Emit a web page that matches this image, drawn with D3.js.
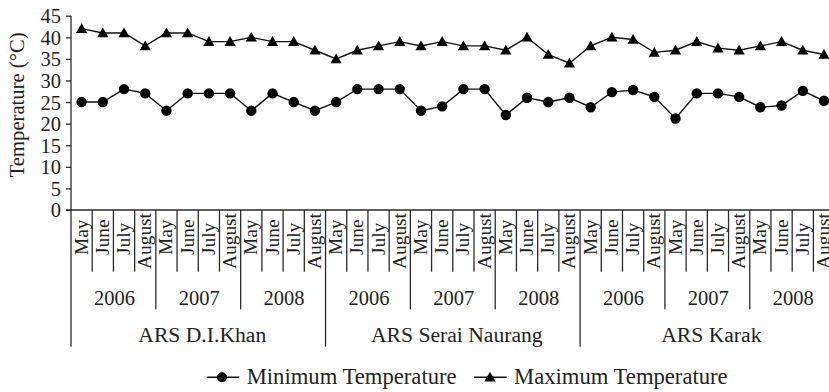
<!DOCTYPE html>
<html><head><meta charset="utf-8">
<script src="https://cdn.jsdelivr.net/npm/d3@7"></script>
<style>
html,body{margin:0;padding:0;background:#fff;overflow:hidden}
svg text{font-family:"Liberation Serif","DejaVu Serif","Tinos","Noto Serif","Nimbus Roman","Nimbus Roman No9 L","FreeSerif","Times New Roman",Times,serif;fill:#222}
</style></head>
<body>
<svg id="c" width="829" height="392"></svg>
<script>
const sites = ["ARS D.I.Khan", "ARS Serai Naurang", "ARS Karak"];
const years = ["2006", "2007", "2008"];
const months = ["May", "June", "July", "August"];
const minTemp = [25, 25, 28, 27, 23, 27, 27, 27, 23, 27, 25, 23,
                 25, 28, 28, 28, 23, 24, 28, 28, 22, 26, 25, 26,
                 23.8, 27.3, 27.8, 26.2, 21.2, 27, 27, 26.2, 23.8, 24.2, 27.6, 25.3];
const maxTemp = [42, 41, 41, 38, 41, 41, 39, 39, 40, 39, 39, 37,
                 35, 37, 38, 39, 38, 39, 38, 38, 37, 40, 36, 34,
                 38, 40, 39.5, 36.5, 37, 39, 37.5, 37, 38, 39, 37, 36];
const yTicks = [0, 5, 10, 15, 20, 25, 30, 35, 40, 45];
const yTitle = "Temperature (°C)";
const seriesNames = ["Minimum Temperature", "Maximum Temperature"];

const cats = [];
sites.forEach(s => years.forEach(yr => months.forEach(m => cats.push({site: s, year: yr, month: m, key: s + "|" + yr + "|" + m}))));
const data = cats.map((c, i) => ({...c, min: minTemp[i], max: maxTemp[i]}));

const svg = d3.select("#c");
const left = 71, right = 834.6, y0 = 210;
const x = d3.scaleBand().domain(cats.map(c => c.key)).range([left, right]);
const y = d3.scaleLinear().domain([0, 45]).range([y0, 15.7]);
const bw = x.bandwidth();
const axisColor = "#2a2a2a";

// font-size fitted so that a sample string reaches the width seen in the reference
function fitSize(sample, target) {
  const t = svg.append("text").style("font-size", "20px").text(sample);
  const w = t.node().getComputedTextLength();
  t.remove();
  return Math.max(10, Math.min(26, 20 * target / w));
}
const fsTick = fitSize("2006", 41);
const fsMonth = fitSize("August", 56);
const fsYear = fsTick;
const fsSite = fitSize("ARS D.I.Khan", 128);
const fsLegend = fitSize(seriesNames[0], 210);
const fsTitle = fitSize(yTitle, 145);

// Y axis
const yAxis = svg.append("g").attr("transform", `translate(${left},0)`)
  .call(d3.axisLeft(y).tickValues(yTicks).tickSize(5).tickPadding(5).tickSizeOuter(0));
yAxis.attr("font-family", null).attr("font-size", null);
yAxis.select(".domain").remove();
yAxis.selectAll(".tick line").attr("stroke", axisColor).attr("stroke-width", 1.3);
yAxis.selectAll(".tick text").style("font-size", fsTick + "px").attr("fill", "#222").attr("dy", "0.34em");

// vertical y-axis line (extends down to site separators)
svg.append("line").attr("x1", left).attr("x2", left).attr("y1", y(45)).attr("y2", 346.7)
  .attr("stroke", axisColor).attr("stroke-width", 1.3);
// horizontal x-axis line
svg.append("line").attr("x1", left - 5).attr("x2", right).attr("y1", y0).attr("y2", y0)
  .attr("stroke", axisColor).attr("stroke-width", 1.3);

// Y title
svg.append("text").attr("transform", `translate(24,${(y(45)+y(0))/2 - 8}) rotate(-90)`)
  .attr("text-anchor", "middle").style("font-size", fsTitle + "px").text(yTitle);

// Category separators
const sepG = svg.append("g");
cats.forEach((c, i) => {
  const xb = x(c.key) + bw;
  let y2 = 271.7;
  if ((i + 1) % 4 === 0) y2 = 309.3;
  if ((i + 1) % 12 === 0) y2 = 346.7;
  sepG.append("line").attr("x1", xb).attr("x2", xb).attr("y1", y0).attr("y2", y2)
    .attr("stroke", axisColor).attr("stroke-width", 1.3);
});
// month labels
cats.forEach(c => {
  const cx = x(c.key) + bw / 2 + 6;
  const t = svg.append("text").style("font-size", fsMonth + "px").text(c.month);
  const len = t.node().getComputedTextLength();
  if (len > 42) t.attr("text-anchor", "end").attr("transform", `translate(${cx},213) rotate(-90)`);
  else t.attr("text-anchor", "start").attr("transform", `translate(${cx},255) rotate(-90)`);
});
// year labels
sites.forEach(s => years.forEach(yr => {
  const ks = cats.filter(c => c.site === s && c.year === yr).map(c => c.key);
  const cx = (x(ks[0]) + x(ks[ks.length - 1]) + bw) / 2 + 1;
  svg.append("text").attr("x", cx).attr("y", 305).attr("text-anchor", "middle").style("font-size", fsYear + "px").text(yr);
}));
// site labels
sites.forEach(s => {
  const ks = cats.filter(c => c.site === s).map(c => c.key);
  const cx = (x(ks[0]) + x(ks[ks.length - 1]) + bw) / 2 + 4;
  svg.append("text").attr("x", cx).attr("y", 342).attr("text-anchor", "middle")
    .style("font-size", fsSite + "px").text(s);
});

// series
const lineGen = key => d3.line().x(d => x(d.key) + bw / 2).y(d => y(d[key]));
svg.append("path").datum(data).attr("d", lineGen("min")).attr("fill", "none").attr("stroke", "#111").attr("stroke-width", 1.4);
svg.append("path").datum(data).attr("d", lineGen("max")).attr("fill", "none").attr("stroke", "#111").attr("stroke-width", 1.4);
svg.append("g").selectAll("circle").data(data).join("circle")
  .attr("cx", d => x(d.key) + bw / 2).attr("cy", d => y(d.min)).attr("r", 5.2).attr("fill", "#000");
const tri = "M0,-5.5L5.6,4.3L-5.6,4.3Z";
svg.append("g").selectAll("path").data(data).join("path")
  .attr("d", tri).attr("transform", d => `translate(${x(d.key) + bw / 2},${y(d.max)})`).attr("fill", "#000");

// legend
const ly = 377.3;
const lg = svg.append("g");
lg.append("line").attr("x1", 206.7).attr("x2", 239.3).attr("y1", ly).attr("y2", ly).attr("stroke", "#111").attr("stroke-width", 1.4);
lg.append("circle").attr("cx", 222).attr("cy", ly).attr("r", 5).attr("fill", "#000");
lg.append("text").attr("x", 246.7).attr("y", 383.5).style("font-size", fsLegend + "px").text(seriesNames[0]);
lg.append("line").attr("x1", 474).attr("x2", 506.7).attr("y1", ly).attr("y2", ly).attr("stroke", "#111").attr("stroke-width", 1.4);
lg.append("path").attr("d", tri).attr("transform", `translate(490,${ly})`).attr("fill", "#000");
lg.append("text").attr("x", 514).attr("y", 383.5).style("font-size", fsLegend + "px").text(seriesNames[1]);
</script>
</body></html>
